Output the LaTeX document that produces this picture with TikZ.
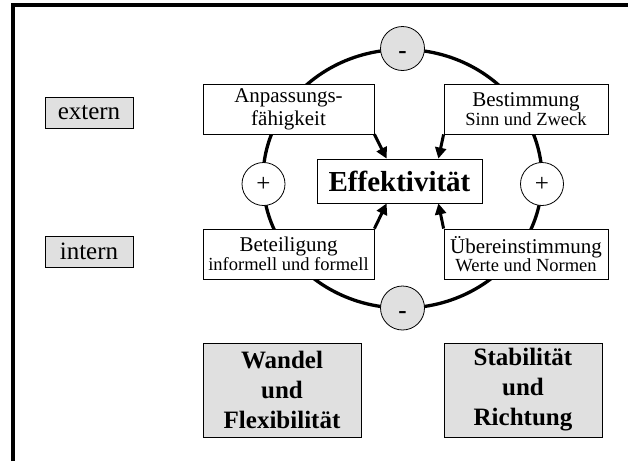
\documentclass[tikz,border=0pt]{standalone}
\usepackage{fontspec}
\setmainfont{Liberation Serif}
\usetikzlibrary{arrows.meta,calc}
\definecolor{boxgray}{RGB}{224,224,224}
\begin{document}
\begin{tikzpicture}[x=1pt,y=-1pt,
  box/.style={draw,line width=0.8pt,fill=white,inner sep=0pt,align=center},
  graybox/.style={box,fill=boxgray},
  sign/.style={draw,line width=0.8pt,circle,minimum size=44pt,inner sep=0pt},
  minus/.style={sign,fill=boxgray,font=\fontsize{25}{25}\selectfont\bfseries,text height=20pt,text depth=0pt},
  plus/.style={sign,fill=white,minimum size=43pt,font=\fontsize{25}{25}\selectfont},
  arr/.style={line width=3pt,-{Triangle[length=11pt,width=11pt]}}]
\useasboundingbox (0,0) rectangle (628,461);
% frame
\draw[line width=4pt] (13,461) -- (13,5.3) -- (628,5.3);
% loop
\draw[line width=3.3pt] (402.5,178.75) ellipse [x radius=139.5, y radius=129.3];
% side labels
\node[graybox,minimum width=88pt,minimum height=31pt,font=\fontsize{25}{28}\selectfont] (ext) at (89,112.5) {extern};
\node[graybox,minimum width=88pt,minimum height=31pt,font=\fontsize{25}{28}\selectfont] (int) at (89,251.5) {intern};
% four boxes
\node[box,minimum width=171pt,minimum height=50pt,font=\fontsize{21}{23}\selectfont] (anp) at (288.5,109) {Anpassungs-\\fähigkeit};
\node[box,minimum width=164pt,minimum height=50pt] (bes) at (526,109) {{\fontsize{21}{23}\selectfont Bestimmung}\\{\fontsize{18.5}{23}\selectfont Sinn und Zweck}};
\node[box,minimum width=171pt,minimum height=50pt] (bet) at (288.5,254) {{\fontsize{21}{23}\selectfont Beteiligung}\\{\fontsize{18.5}{23}\selectfont informell und formell}};
\node[box,minimum width=164pt,minimum height=50pt] (ueb) at (526,254) {{\fontsize{21}{23}\selectfont Übereinstimmung}\\{\fontsize{18.5}{23}\selectfont Werte und Normen}};
% centre
\node[box,minimum width=165pt,minimum height=44pt,font=\fontsize{29}{32}\selectfont\bfseries] (eff) at (399.5,181) {Effektivität};
% signs
\node[minus] (mtop) at (402.5,48.5) {-};
\node[minus] (mbot) at (402.5,308) {-};
\node[plus] (pl) at (263.5,184) {+};
\node[plus] (pr) at (542,184) {+};
% arrows into the centre
\draw[arr] (anp.south east) -- ($(eff.north west)+(70,0)$);
\draw[arr] (bes.south west) -- ($(eff.north east)+(-44,0)$);
\draw[arr] (bet.north east) -- ($(eff.south west)+(70,0)$);
\draw[arr] (ueb.north west) -- ($(eff.south east)+(-44,0)$);
% bottom boxes
\node[graybox,minimum width=158pt,minimum height=94pt,font=\fontsize{25}{30}\selectfont\bfseries] (wan) at (282,390) {Wandel\\und\\Flexibilität};
\node[graybox,minimum width=158pt,minimum height=94pt,font=\fontsize{25}{30}\selectfont\bfseries] (sta) at (523,390) {Stabilität\\und\\Richtung};
\end{tikzpicture}
\end{document}
